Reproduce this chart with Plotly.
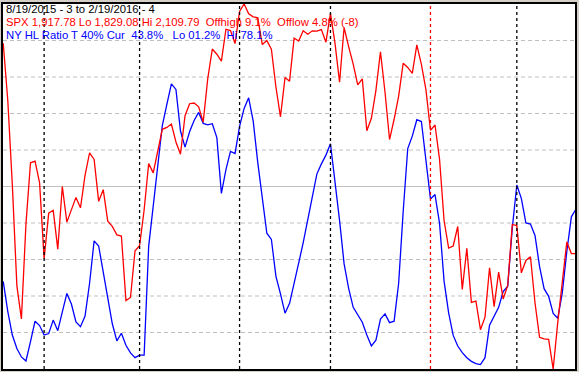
import pandas as pd
import plotly.graph_objects as go

# Trading days 8/19/2015 .. 2/19/2016 (NYSE holidays removed)
holidays = ["2015-09-07", "2015-11-26", "2015-12-25", "2016-01-01", "2016-01-18", "2016-02-15"]
dates = [d for d in pd.bdate_range("2015-08-19", "2016-02-19") if d.strftime("%Y-%m-%d") not in holidays]

spx = [2079.61, 2035.73, 1970.89, 1893.21, 1867.61, 1940.51, 1987.66, 1988.87, 1972.18,
       1913.85, 1948.86, 1951.13, 1921.22, 1969.41, 1942.04, 1952.29, 1961.05, 1953.03, 1978.09,
       1995.31, 1990.20, 1958.03, 1966.97, 1942.74, 1938.76, 1932.24, 1931.34, 1881.77, 1884.09,
       1920.03,
       1923.82, 1951.36, 1987.05, 1979.92, 1995.83, 2013.43, 2014.89, 2017.46, 2003.69, 1994.24,
       2023.86, 2033.11, 2033.66, 2030.77, 2018.94, 2052.51, 2075.15, 2071.18, 2065.89, 2090.35,
       2089.41, 2079.36,
       2104.05, 2109.79, 2102.31, 2099.93, 2099.20, 2078.58, 2081.72, 2075.00, 2045.97, 2023.04,
       2053.19, 2050.44, 2083.58, 2081.24, 2089.17, 2086.59, 2089.14, 2088.87, 2090.11, 2080.41,
       2102.63, 2079.51, 2049.62, 2091.69, 2077.07, 2063.59, 2047.62, 2052.23, 2012.37, 2021.94,
       2043.41, 2073.07, 2041.89, 2005.55, 2021.15, 2038.97, 2064.29, 2060.99, 2056.50, 2078.36,
       2063.36, 2043.94,
       2012.66, 2016.71, 1990.26, 1943.09, 1922.03, 1923.67, 1938.68, 1890.28, 1921.84, 1880.33,
       1881.33, 1859.33, 1868.99, 1906.90, 1877.08, 1903.63, 1882.95, 1893.36, 1940.24,
       1939.38, 1903.03, 1912.53, 1915.45, 1880.05, 1853.44, 1852.21, 1851.86, 1829.08, 1864.78,
       1895.58, 1926.82, 1917.83, 1917.78]

hl_ratio = [24.0, 15.8, 9.3, 5.6, 3.3, 2.2, 7.5, 13.1, 11.9, 9.3,
            9.7, 13.4, 10.5, 15.6, 20.7, 17.8, 12.9, 11.6, 14.5, 23.5,
            35.1, 33.7, 27.0, 19.5, 12.4, 7.7, 9.8, 6.5, 4.4, 3.1,
            3.8, 3.8, 33.6, 44.4, 54.9, 66.7, 72.5, 78.1, 76.6, 65.2,
            60.8, 65.0, 68.1, 70.3, 67.3, 66.9, 67.2, 63.4, 48.1, 54.6,
            59.6, 59.0, 66.5, 71.4, 74.3, 67.9, 56.6, 46.7, 37.2, 35.5,
            25.4, 20.6, 15.3, 18.0, 23.2, 29.0, 34.6, 41.0, 47.1, 53.4,
            56.2, 58.6, 61.7, 51.9, 40.7, 28.8, 22.1, 16.9, 14.8, 12.8,
            9.3, 6.3, 7.9, 13.7, 15.1, 12.7, 13.1, 23.5, 43.2, 60.4,
            63.8, 68.3, 67.8, 57.5, 46.6, 47.8, 39.9, 24.0, 15.4, 9.2,
            6.3, 4.5, 3.1, 2.1, 1.5, 1.2, 3.1, 12.0, 14.6, 16.9,
            21.2, 22.7, 38.6, 50.4, 46.7, 40.0, 39.7, 36.6, 28.1, 22.0,
            19.9, 15.2, 13.9, 20.8, 32.2, 41.7, 43.8]

header_lines = [
    ("8/19/2015 - 3 to 2/19/2016 - 4", "#000000"),
    ("SPX 1,917.78 Lo 1,829.08 Hi 2,109.79  Offhigh 9.1%  Offlow 4.8% (-8)", "#ff0000"),
    ("NY HL Ratio T 40% Cur  43.8%   Lo 01.2%  Hi 78.1%", "#0000ff"),
]

idx = list(range(len(dates)))
spx_lo, spx_hi = min(spx), max(spx)

fig = go.Figure()
fig.add_trace(go.Scatter(x=idx, y=spx, yaxis="y2", mode="lines",
                         line=dict(color="#ff0000", width=1.3), hoverinfo="skip"))
fig.add_trace(go.Scatter(x=idx, y=hl_ratio, yaxis="y", mode="lines",
                         line=dict(color="#0000ff", width=1.3), hoverinfo="skip"))

shapes = []
# horizontal grid
for g in range(10, 100, 10):
    shapes.append(dict(type="line", xref="paper", yref="y", x0=0, x1=1, y0=g, y1=g,
                       line=dict(color="#c0c0c0", width=1.2,
                                 dash="solid" if g == 50 else "4px,3px"),
                       layer="below"))
# month starts
for i in range(1, len(dates)):
    if dates[i].month != dates[i - 1].month:
        col = "#ff0000" if dates[i].year != dates[i - 1].year else "#000000"
        shapes.append(dict(type="line", xref="x", yref="paper", x0=i, x1=i, y0=0, y1=1,
                           line=dict(color=col, width=1.3, dash="3px,3px"), layer="above"))

annotations = []
for k, (txt, col) in enumerate(header_lines):
    annotations.append(dict(text=txt, xref="paper", yref="paper", x=0, y=1,
                            xanchor="left", yanchor="top", xshift=1, yshift=3 - 13 * k,
                            showarrow=False, font=dict(family="Liberation Sans, Arial", size=11.3, color=col)))

fig.update_layout(
    width=579, height=372,
    margin=dict(l=3, r=4, t=2, b=3),
    paper_bgcolor="#d4d0c8", plot_bgcolor="#ffffff",
    showlegend=False,
    xaxis=dict(range=[-0.05, 125.8], showgrid=False, zeroline=False, showticklabels=False,
               ticks="", showline=True, mirror=True, linecolor="#000000", linewidth=1.5),
    yaxis=dict(range=[0, 100], showgrid=False, zeroline=False, showticklabels=False,
               ticks="", showline=True, mirror=True, linecolor="#000000", linewidth=1.5),
    yaxis2=dict(range=[spx_lo, spx_hi], overlaying="y", showgrid=False, zeroline=False,
                showticklabels=False, ticks="", showline=False),
    shapes=shapes, annotations=annotations,
)

fig.write_html("out.html", config={"displayModeBar": False},
               post_script="document.body.style.margin='0';document.body.style.overflow='hidden';")
